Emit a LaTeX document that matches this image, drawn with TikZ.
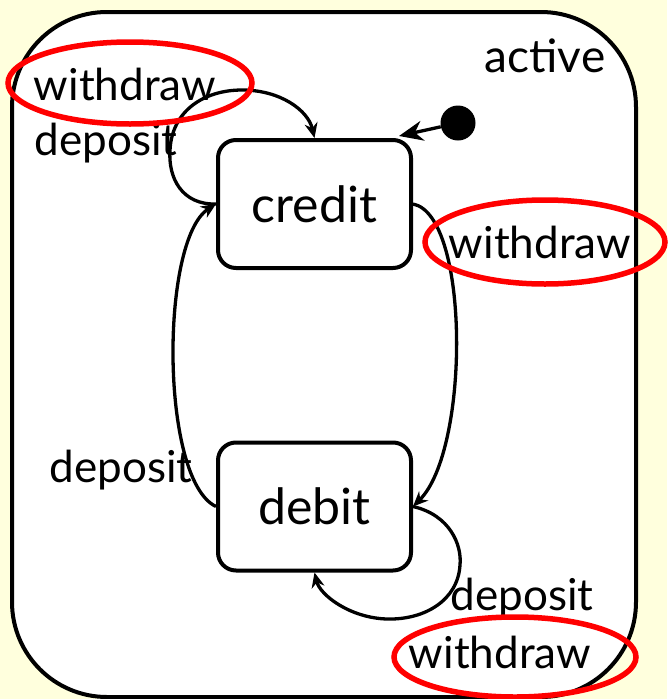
\documentclass[tikz,border=0pt]{standalone}
\usepackage{fontspec}
\setmainfont{Lato}
\usetikzlibrary{arrows.meta}
\definecolor{paper}{HTML}{FFFFDD}
\begin{document}
\begin{tikzpicture}[x=1pt,y=-1pt,
  statebox/.style={draw, line width=4pt, rounded corners=18pt, fill=white,
    minimum width=193pt, minimum height=128pt, inner sep=0pt,
    font=\fontsize{50}{56}\selectfont},
  lbl/.style={inner sep=0pt, anchor=base, font=\fontsize{44}{50}\selectfont},
  trans/.style={line width=3.3pt, -{Stealth[length=15pt,width=13pt]}},
  redring/.style={draw=red, line width=5.5pt}]
  % page
  \fill[paper] (0,0) rectangle (667,699);
  \useasboundingbox (0,0) rectangle (667,699);
  % superstate
  \node[draw, line width=4pt, rounded corners=95pt, fill=white,
    minimum width=624pt, minimum height=685pt, inner sep=0pt] (active) at (324,354.5) {};
  \node[lbl, font=\fontsize{46}{52}\selectfont] (activelbl) at (545,72) {active};
  % states
  \node[statebox] (credit) at (314.5,204) {credit};
  \node[statebox] (debit) at (314.5,506.5) {debit};
  % initial pseudostate
  \node[circle, fill, inner sep=0pt, minimum size=35pt] (init) at (458,123) {};
  \draw[line width=3.3pt, -{Stealth[length=24pt,width=20pt]}]
    (init) -- ([xshift=-14pt,yshift=2pt]credit.north east);
  % credit self loop
  \draw[trans] (credit.west) .. controls (182,205) and (168,178) .. (170,150)
    .. controls (172,110) and (205,90) .. (242,90)
    .. controls (280,90) and (308,110) .. (credit.north);
  % credit -> debit
  \draw[trans] (credit.east) .. controls (470,215) and (470,450) .. (debit.east);
  % debit -> credit
  \draw[trans] (debit.west) .. controls (160,480) and (160,240) .. (credit.west);
  % debit self loop
  \draw[trans] (debit.east) .. controls (450,515) and (462,545) .. (460,565)
    .. controls (458,600) and (425,620) .. (387,619)
    .. controls (350,618) and (320,595) .. (debit.south);
  % transition labels
  \node[lbl] (w1) at (125,100) {withdraw};
  \node[lbl] (d1) at (106,155) {deposit};
  \node[lbl] (w2) at (540,258) {withdraw};
  \node[lbl] (d2) at (121,482) {deposit};
  \node[lbl] (d3) at (522,610) {deposit};
  \node[lbl] (w3) at (500,668) {withdraw};
  % highlight rings
  \draw[redring] (130,83) ellipse [x radius=122, y radius=41];
  \draw[redring] (545,242) ellipse [x radius=120, y radius=42];
  \draw[redring] (515,657) ellipse [x radius=121, y radius=40];
\end{tikzpicture}
\end{document}
